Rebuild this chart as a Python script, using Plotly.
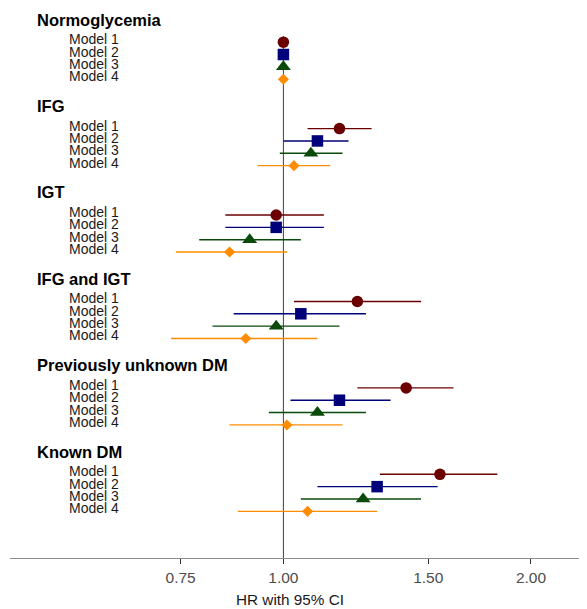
import math
import plotly.graph_objects as go

groups = ["Normoglycemia", "IFG", "IGT", "IFG and IGT", "Previously unknown DM", "Known DM"]
models = ["Model 1", "Model 2", "Model 3", "Model 4"]

# HR point estimates, rows = groups, columns = models
hr = [
    [1.00, 1.00, 1.00, 1.00],
    [1.17, 1.10, 1.08, 1.03],
    [0.98, 0.98, 0.91, 0.86],
    [1.23, 1.05, 0.98, 0.90],
    [1.41, 1.17, 1.10, 1.01],
    [1.55, 1.30, 1.25, 1.07],
]
lower = [
    [1.00, 1.00, 1.00, 1.00],
    [1.07, 1.00, 0.99, 0.93],
    [0.85, 0.85, 0.79, 0.74],
    [1.03, 0.87, 0.82, 0.73],
    [1.23, 1.02, 0.96, 0.86],
    [1.31, 1.10, 1.05, 0.88],
]
upper = [
    [1.00, 1.00, 1.00, 1.00],
    [1.28, 1.20, 1.18, 1.14],
    [1.12, 1.12, 1.05, 1.01],
    [1.47, 1.26, 1.17, 1.10],
    [1.61, 1.35, 1.26, 1.18],
    [1.82, 1.54, 1.47, 1.30],
]
tick_vals = [0.75, 1.00, 1.50, 2.00]
tick_text = ["0.75", "1.00", "1.50", "2.00"]
x_title = "HR with 95% CI"

colors = ["#6a0000", "#00007a", "#0a4a0a", "#ff8c00"]
symbols = ["circle", "square", "triangle-up", "diamond"]
sizes = [11.5, 11.5, 13, 8.5]

ROWS_PER_GROUP = 7
HEADER_OFFSET = 1.83

# page body has an 8px margin; figure coordinates = page coordinates - 8
OFF = 8
W, H = 587 - OFF, 609 - OFF
L = 10 - OFF
T = 35.5 - OFF
AX_Y = 558.5 - OFF
B = H - AX_Y
PW = W - L
PH = AX_Y - T
Y0, Y1 = -0.5, (558.5 - 41.7) / 12.37  # row range (top, bottom)


def row_to_paper(r):
    return 1 - (r - Y0) / (Y1 - Y0)


def px_to_paper_x(px):
    return (px - OFF - L) / PW


fig = go.Figure()

for m, model in enumerate(models):
    ys, xs, ep, em = [], [], [], []
    for g in range(len(groups)):
        ys.append(g * ROWS_PER_GROUP + m)
        xs.append(hr[g][m])
        ep.append(upper[g][m] - hr[g][m])
        em.append(hr[g][m] - lower[g][m])
    fig.add_trace(go.Scatter(
        x=xs, y=ys, mode="markers", name=model, showlegend=False,
        marker=dict(symbol=symbols[m], size=sizes[m], color=colors[m],
                    line=dict(width=0)),
        error_x=dict(type="data", array=ep, arrayminus=em, symmetric=False,
                     color=colors[m], thickness=1.4, width=0),
    ))

annotations = []
for g, grp in enumerate(groups):
    annotations.append(dict(
        x=px_to_paper_x(35), xref="paper",
        y=row_to_paper(g * ROWS_PER_GROUP - HEADER_OFFSET), yref="paper",
        text="<b>%s</b>" % grp, showarrow=False, xanchor="left", yanchor="middle",
        font=dict(family="Liberation Sans, Arial", size=16.5, color="#000000")))
    for m, model in enumerate(models):
        annotations.append(dict(
            x=px_to_paper_x(67), xref="paper",
            y=row_to_paper(g * ROWS_PER_GROUP + m), yref="paper",
            text=model, showarrow=False, xanchor="left", yanchor="middle", yshift=3,
            font=dict(family="Liberation Sans, Arial", size=14, color="#1a1a1a")))

annotations.append(dict(
    x=px_to_paper_x(290), xref="paper", y=-(600 - 558.5) / PH, yref="paper",
    text=x_title, showarrow=False, xanchor="center", yanchor="middle",
    font=dict(family="Liberation Sans, Arial", size=15.3, color="#1a1a1a")))

xmin = math.exp((10 - 283.4) / 357.2)
xmax = math.exp((587 - 283.4) / 357.2)

fig.update_layout(
    width=W, height=H,
    margin=dict(l=L, r=0, t=T, b=B, pad=0),
    paper_bgcolor="white", plot_bgcolor="white",
    font=dict(family="Liberation Sans, Arial", color="#1a1a1a"),
    xaxis=dict(type="log", range=[math.log10(xmin), math.log10(xmax)],
               tickvals=tick_vals, ticktext=tick_text, ticks="outside",
               ticklen=5, tickwidth=1.2, tickcolor="#333333",
               showline=True, linecolor="#8c8c8c", linewidth=1,
               showgrid=False, zeroline=False,
               tickfont=dict(size=15.5, color="#4d4d4d")),
    yaxis=dict(range=[Y1, Y0], visible=False, showgrid=False, zeroline=False),
    annotations=annotations,
    shapes=[dict(type="line", xref="x", yref="paper", x0=1, x1=1, y0=0, y1=1,
                 line=dict(color="#404040", width=1), layer="below")],
)

fig.write_html("out.html")
